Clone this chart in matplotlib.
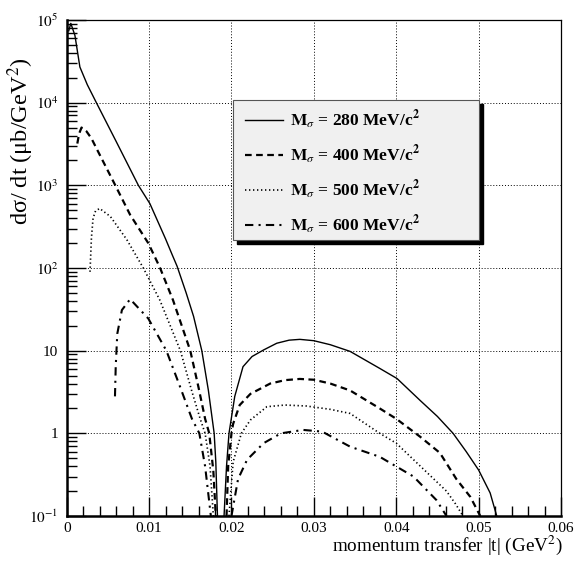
import numpy as np
import matplotlib.pyplot as plt
from matplotlib.patches import Rectangle
from matplotlib.lines import Line2D

plt.rcParams['font.family'] = ['Liberation Serif', 'DejaVu Serif']
plt.rcParams['mathtext.fontset'] = 'stix'

# curves, two branches each (left / right of the zero)
t280_a = [0.00025, 0.0005, 0.0010, 0.0016, 0.0025, 0.0036, 0.0060, 0.0087, 0.0101,
          0.0112, 0.0120, 0.0128, 0.0134, 0.0145, 0.0154, 0.0164, 0.0172, 0.0179, 0.0181, 0.0183]
s280_a = [7.4e4, 9.1e4, 6.5e4, 2.7e4, 1.65e4, 1.0e4, 3.4e3, 1.0e3, 600,
          340, 225, 145, 105, 50, 26, 10, 3.3, 1.0, 0.45, 0.1]
t280_b = [0.0191, 0.0194, 0.0197, 0.0204, 0.0214, 0.0225, 0.0239, 0.0255, 0.0270, 0.0283, 0.0300,
          0.0320, 0.0344, 0.0380, 0.0401, 0.0429, 0.0450, 0.0469, 0.0485, 0.0500, 0.0514, 0.0522]
s280_b = [0.1, 0.4, 1.0, 2.8, 6.4, 8.5, 10.2, 12.3, 13.4, 13.7, 13.2,
          11.8, 9.8, 6.1, 4.6, 2.5, 1.6, 1.0, 0.6, 0.36, 0.19, 0.1]

t400_a = [0.00129, 0.0015, 0.0018, 0.0024, 0.0030, 0.0040, 0.0059, 0.0077, 0.0099,
          0.0113, 0.0129, 0.0150, 0.0160, 0.0168, 0.0173, 0.0178, 0.0181]
s400_a = [3.2e3, 4.2e3, 5.0e3, 4.5e3, 3.7e3, 2.35e3, 1.0e3, 440, 200,
          102, 41, 10, 3.6, 1.5, 1.0, 0.35, 0.1]
t400_b = [0.0194, 0.0196, 0.0200, 0.0202, 0.0210, 0.0223, 0.0247, 0.0265, 0.0283, 0.0300,
          0.0320, 0.0344, 0.0380, 0.0400, 0.0429, 0.0453, 0.0473, 0.0490, 0.0502]
s400_b = [0.1, 0.4, 1.0, 1.3, 2.2, 3.0, 4.0, 4.4, 4.55, 4.45,
          4.0, 3.3, 2.0, 1.5, 0.91, 0.58, 0.28, 0.17, 0.1]

t500_a = [0.00283, 0.0030, 0.0032, 0.0035, 0.0040, 0.0053, 0.0073, 0.0093, 0.0113,
          0.0138, 0.0152, 0.0162, 0.0168, 0.0174, 0.0178]
s500_a = [90, 230, 400, 490, 525, 420, 220, 100, 41,
          10, 3.2, 1.5, 1.0, 0.4, 0.1]
t500_b = [0.0197, 0.0202, 0.0212, 0.0223, 0.0243, 0.0265, 0.0291, 0.0320, 0.0344, 0.0380,
          0.0400, 0.0421, 0.0461, 0.0472, 0.0481]
s500_b = [0.1, 0.45, 1.0, 1.45, 2.1, 2.2, 2.14, 1.95, 1.74, 1.0,
          0.76, 0.48, 0.2, 0.14, 0.1]

t600_a = [0.00586, 0.00595, 0.00614, 0.0067, 0.0077, 0.0099, 0.0121, 0.0137,
          0.0152, 0.0161, 0.0168, 0.0175]
s600_a = [2.8, 6.4, 16, 31, 42, 24.5, 10, 3.8,
          1.5, 1.0, 0.4, 0.1]
t600_b = [0.0200, 0.0208, 0.0219, 0.0239, 0.0260, 0.0287, 0.0310, 0.0344,
          0.0380, 0.0421, 0.0449, 0.0461]
s600_b = [0.1, 0.28, 0.48, 0.76, 1.0, 1.1, 1.05, 0.69,
          0.52, 0.30, 0.155, 0.1]

masses = [280, 400, 500, 600]
xticks = [0, 0.01, 0.02, 0.03, 0.04, 0.05, 0.06]
xticklabels = ['0', '0.01', '0.02', '0.03', '0.04', '0.05', '0.06']
yticks = [1e-1, 1, 10, 1e2, 1e3, 1e4, 1e5]
yticklabels = ['$10^{-1}$', '1', '10', '$10^{2}$', '$10^{3}$', '$10^{4}$', '$10^{5}$']

styles = [dict(ls='-', lw=1.0),
          dict(ls=(0, (3, 2)), lw=1.6),
          dict(ls=(0, (0.8, 1.6)), lw=1.2),
          dict(ls=(0, (4, 2.5, 1, 2.5)), lw=1.5)]
curves = [(t280_a, s280_a, t280_b, s280_b),
          (t400_a, s400_a, t400_b, s400_b),
          (t500_a, s500_a, t500_b, s500_b),
          (t600_a, s600_a, t600_b, s600_b)]

W, H = 579, 575
fig = plt.figure(figsize=(W / 100, H / 100), dpi=100)
ax = fig.add_axes([66.7 / W, (H - 516) / H, 494.3 / W, 496 / H])

for (ta, sa, tb, sb), st in zip(curves, styles):
    ax.plot(ta, sa, color='black', **st)
    ax.plot(tb, sb, color='black', **st)

ax.set_yscale('log')
ax.set_xlim(0, 0.06)
ax.set_ylim(0.1, 1e5)
ax.set_xticks(xticks)
ax.set_xticklabels(xticklabels)
ax.set_xticks(np.arange(0, 0.0601, 0.002), minor=True)
ax.set_yticks(yticks)
ax.set_yticklabels(yticklabels)
ax.grid(True, which='major', color='black', ls=(0, (1, 2)), lw=0.7)
ax.tick_params(which='both', direction='in', top=False, right=False, labelsize=11)
ax.tick_params(which='major', length=14, width=1.0)
ax.tick_params(which='minor', length=7, width=1.0)
ax.tick_params(axis='x', pad=4)
ax.tick_params(axis='y', pad=6)
for s in ['left', 'bottom']:
    ax.spines[s].set_linewidth(1.8)
for s in ['top', 'right']:
    ax.spines[s].set_linewidth(0.9)

# legend box with black shadow
bx0, bx1, by0, by1 = 232.7, 479.3, 100, 240
fig.patches.append(Rectangle((((bx0 + 4) / W), (H - by1 - 4) / H), (bx1 - bx0) / W,
                             (by1 - by0) / H, transform=fig.transFigure,
                             facecolor='black', edgecolor='black', zorder=5))
fig.patches.append(Rectangle((bx0 / W, (H - by1) / H), (bx1 - bx0) / W,
                             (by1 - by0) / H, transform=fig.transFigure,
                             facecolor='#f0f0f0', edgecolor='#555555', lw=0.8, zorder=6))
rows = [120, 155, 190, 225]
for m, st, ry in zip(masses, styles, rows):
    fig.lines.append(Line2D([245 / W, 283 / W], [(H - ry) / H] * 2,
                            transform=fig.transFigure, color='black', zorder=7, **st))
    fig.text(290 / W, (H - ry) / H,
             r'$\mathbf{M}_{\sigma}$ = %d MeV/c$^{\mathbf{2}}$' % m,
             fontsize=12.5, fontweight='bold', va='center', ha='left', zorder=8)

fig.text(563 / W, (H - 551) / H, r'momentum transfer |t| (GeV$^{2}$)',
         fontsize=13.8, ha='right', va='baseline')
fig.text(36 / W, (H - 57) / H, r'dσ/ dt (μb/GeV$^{2}$)',
         fontsize=17.5, rotation=90, ha='right', va='top')

fig.savefig('out.png', dpi=100)
